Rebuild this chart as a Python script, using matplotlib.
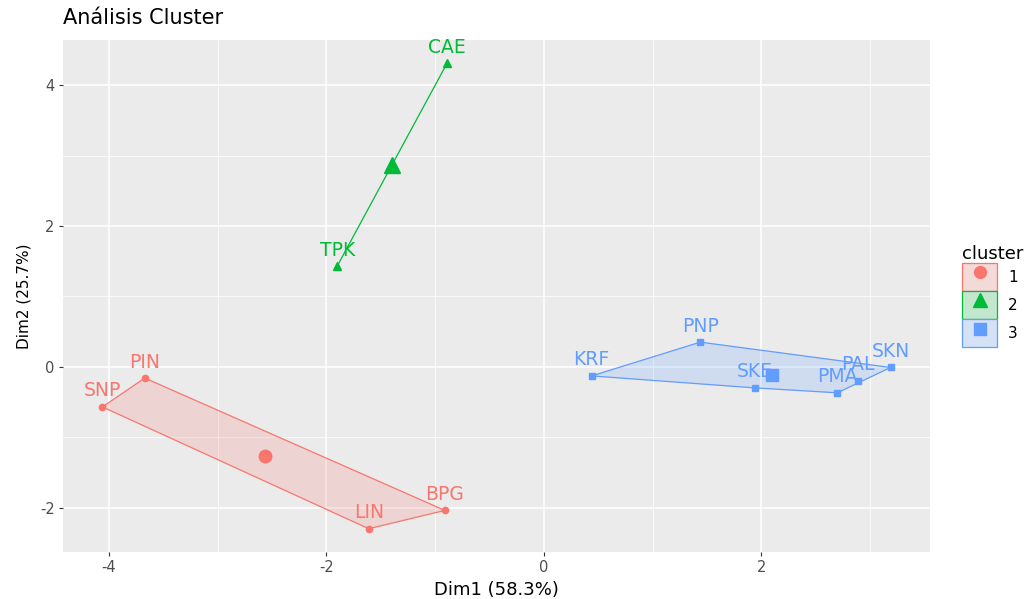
import numpy as np
import matplotlib
matplotlib.use("Agg")
import matplotlib.pyplot as plt
from matplotlib.patches import Polygon, Patch
from matplotlib.lines import Line2D
from matplotlib.legend_handler import HandlerTuple

plt.rcParams['font.family'] = ['DejaVu Sans']
plt.rcParams['axes.unicode_minus'] = False

# ---- data ----
names = ["SNP", "PIN", "LIN", "BPG", "TPK", "CAE",
         "KRF", "PNP", "SKE", "PMA", "PAL", "SKN"]
dim1 = [-4.06, -3.67, -1.61, -0.91, -1.90, -0.89,
        0.44, 1.44, 1.94, 2.70, 2.89, 3.19]
dim2 = [-0.57, -0.16, -2.30, -2.04, 1.43, 4.31,
        -0.13, 0.35, -0.30, -0.37, -0.20, -0.01]
cluster = [1, 1, 1, 1, 2, 2, 3, 3, 3, 3, 3, 3]

cluster_ids = [1, 2, 3]
cluster_colors = ["#F8766D", "#00BA38", "#619CFF"]
cluster_markers = ["o", "^", "s"]

title = "Análisis Cluster"
xlabel = "Dim1 (58.3%)"
ylabel = "Dim2 (25.7%)"
xticks = [-4, -2, 0, 2]
yticks = [-2, 0, 2, 4]

# ---- helpers ----
def hull(pts):
    pts = sorted(set(map(tuple, pts)))
    if len(pts) <= 2:
        return pts
    def cross(o, a, b):
        return (a[0]-o[0])*(b[1]-o[1]) - (a[1]-o[1])*(b[0]-o[0])
    lower, upper = [], []
    for p in pts:
        while len(lower) >= 2 and cross(lower[-2], lower[-1], p) <= 0:
            lower.pop()
        lower.append(p)
    for p in reversed(pts):
        while len(upper) >= 2 and cross(upper[-2], upper[-1], p) <= 0:
            upper.pop()
        upper.append(p)
    return lower[:-1] + upper[:-1]

def blend(c, a, bg=(0.95, 0.95, 0.95)):
    rgb = matplotlib.colors.to_rgb(c)
    return tuple(a*x + (1-a)*y for x, y in zip(rgb, bg))

x = np.array(dim1); y = np.array(dim2); cl = np.array(cluster)

fig = plt.figure(figsize=(10.36, 5.99), dpi=100)
ax = fig.add_axes([63/1036, 47/599, (930-63)/1036, (552-40)/599])
ax.set_facecolor("#EBEBEB")
for s in ax.spines.values():
    s.set_visible(False)

# grid
ax.set_xticks(xticks)
ax.set_yticks(yticks)
ax.set_xticks([-3, -1, 1, 3], minor=True)
ax.set_yticks([-1, 1, 3], minor=True)
ax.grid(which="major", color="white", lw=1.1, zorder=0)
ax.grid(which="minor", color="white", lw=0.55, zorder=0)
ax.set_axisbelow(True)
ax.tick_params(which="minor", length=0)
ax.tick_params(which="major", length=3, width=0.8, color="#333333",
               labelcolor="#4D4D4D", labelsize=10.5, pad=3)

handles = []
for cid, col, mk in zip(cluster_ids, cluster_colors, cluster_markers):
    m = cl == cid
    pts = np.column_stack([x[m], y[m]])
    hp = hull(pts)
    if len(hp) >= 3:
        poly = Polygon(hp, closed=True, facecolor=col, alpha=0.2,
                       edgecolor="none", zorder=2)
        ax.add_patch(poly)
        poly2 = Polygon(hp, closed=True, facecolor="none", edgecolor=col,
                        lw=0.9, zorder=3)
        ax.add_patch(poly2)
    else:
        hx = [p[0] for p in hp]; hy = [p[1] for p in hp]
        ax.plot(hx, hy, color=col, lw=0.9, zorder=3)
    ms = 5.5 if mk == "^" else (4.5 if mk == "o" else 4.8)
    ax.plot(x[m], y[m], ls="", marker=mk, color=col, ms=ms, zorder=4)
    for xi, yi, nm in zip(x[m], y[m], np.array(names)[m]):
        ax.annotate(nm, (xi, yi), xytext=(0, 11.5), textcoords="offset points",
                    ha="center", va="center", color=col, fontsize=13.5, zorder=5)
    cms = 11 if mk == "^" else 9
    ax.plot([x[m].mean()], [y[m].mean()], ls="", marker=mk, color=col,
            ms=cms, zorder=6)
    handles.append((Patch(facecolor=blend(col, 0.2), edgecolor=col, lw=0.9),
                    Line2D([], [], ls="", marker=mk, color=col,
                           ms=(10 if mk == "^" else 8.5))))

# limits with 5% expansion (ggplot style)
xr = x.max() - x.min(); yr = y.max() - y.min()
ax.set_xlim(x.min() - 0.05*xr, x.max() + 0.05*xr)
ax.set_ylim(y.min() - 0.05*yr, y.max() + 0.05*yr)

ax.set_xlabel(xlabel, fontsize=13, color="black", labelpad=4)
ax.set_ylabel(ylabel, fontsize=11, color="black", labelpad=6)
fig.text(63/1036, 1 - 18/599, title, fontsize=15, ha="left", va="center")

leg = fig.legend(handles, [str(c) for c in cluster_ids],
                 handler_map={tuple: HandlerTuple(ndivide=1, pad=0)},
                 loc="upper left", bbox_to_anchor=(962/1036, 1 - 245/599),
                 frameon=False, title="cluster", fontsize=11,
                 title_fontsize=13, handlelength=2.3, handleheight=2.45,
                 labelspacing=0.0, handletextpad=0.7, borderaxespad=0,
                 borderpad=0)
leg._legend_box.align = "left"

fig.savefig("out.png", dpi=100)
